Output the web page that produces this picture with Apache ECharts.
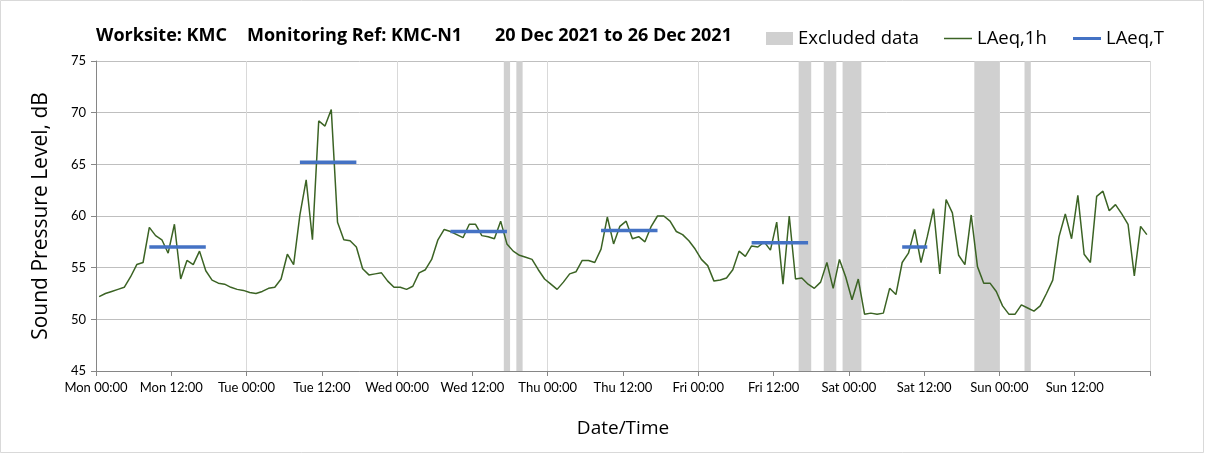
<!DOCTYPE html>
<html>
<head>
<meta charset="utf-8">
<script src="https://cdn.jsdelivr.net/npm/echarts@6/dist/echarts.min.js"></script>
<style>
html,body{margin:0;padding:0;background:#fff;}
#chart{width:1208px;height:459px;}
</style>
</head>
<body>
<div id="chart"></div>
<script>
// Hourly LAeq,1h values, Mon 00:00 .. Sun 23:00 (168 hours)
const laeq1h = [
  52.2,52.5,52.7,52.9,53.1,54.1,55.3,55.5,58.9,58.1,57.7,56.4,59.2,53.9,55.7,55.3,56.6,54.7,53.8,53.5,53.4,53.1,52.9,52.8,
  52.6,52.5,52.7,53.0,53.1,53.9,56.3,55.3,60.1,63.5,57.7,69.2,68.7,70.3,59.4,57.7,57.6,57.0,54.9,54.3,54.4,54.5,53.7,53.1,
  53.1,52.9,53.2,54.5,54.8,55.8,57.7,58.7,58.5,58.2,57.9,59.2,59.2,58.1,58.0,57.8,59.5,57.3,56.6,56.2,56.0,55.8,54.8,53.9,
  53.4,52.9,53.6,54.4,54.6,55.7,55.7,55.5,56.8,59.9,57.3,59.0,59.5,57.8,58.0,57.5,59.0,60.0,60.0,59.5,58.5,58.2,57.6,56.8,
  55.8,55.2,53.7,53.8,54.0,54.8,56.6,56.1,57.1,57.0,57.5,56.7,59.4,53.4,60.0,53.9,54.0,53.4,53.0,53.6,55.5,53.0,55.8,54.1,
  51.9,53.9,50.5,50.6,50.5,50.6,53.0,52.4,55.5,56.4,58.7,55.5,58.0,60.7,54.4,61.6,60.3,56.2,55.3,60.1,55.1,53.5,53.5,52.7,
  51.3,50.5,50.5,51.4,51.1,50.8,51.3,52.5,53.8,58.0,60.2,57.8,62.0,56.3,55.5,61.9,62.4,60.5,61.1,60.2,59.2,54.2,59.0,58.2
];
// LAeq,T daytime periods (first hour, last hour, level)
const periodStart = [8, 32, 56, 80, 104, 128];
const periodEnd   = [17, 41, 65, 89, 113, 132];
const periodLevel = [57.0, 65.2, 58.5, 58.6, 57.4, 57.0];
// Excluded hours (hour index from Mon 00:00)
const excludedHours = [65, 67, 112, 113, 116, 117, 119, 120, 121, 140, 141, 142, 143, 148];
// X tick labels every 12 hours
const tickLabels = ['Mon 00:00','Mon 12:00','Tue 00:00','Tue 12:00','Wed 00:00','Wed 12:00','Thu 00:00','Thu 12:00','Fri 00:00','Fri 12:00','Sat 00:00','Sat 12:00','Sun 00:00','Sun 12:00'];
const yTicks = [45, 50, 55, 60, 65, 70, 75];

const FONT = 'Lato, "Open Sans", sans-serif';
const FONT2 = '"Open Sans", Lato, sans-serif';
const chart = echarts.init(document.getElementById('chart'), null, {renderer: 'canvas'});

const lineData = laeq1h.map((v, i) => [i + 0.5, v]);
// merge consecutive excluded hours into contiguous ranges
const ranges = [];
excludedHours.forEach(h => {
  const last = ranges[ranges.length - 1];
  if (last && last[1] === h) last[1] = h + 1; else ranges.push([h, h + 1]);
});
const excludedAreas = ranges.map(r => [{xAxis: r[0]}, {xAxis: r[1]}]);

const periodSeries = periodStart.map((s, k) => ({
  name: 'LAeq,T',
  type: 'line',
  xAxisIndex: 0,
  yAxisIndex: 0,
  symbol: 'none',
  silent: true,
  z: 4,
  lineStyle: {color: '#4472C4', width: 3.5, cap: 'butt'},
  itemStyle: {color: '#4472C4'},
  data: [[s + 0.5, periodLevel[k]], [periodEnd[k] + 0.5, periodLevel[k]]]
}));

const titleStyle = {fontFamily: FONT2, fontSize: 18, fontWeight: 'bold', color: '#000'};
const legendText = {fontFamily: FONT2, fontSize: 18.5, color: '#000'};

const option = {
  animation: false,
  backgroundColor: '#ffffff',
  textStyle: {fontFamily: FONT},
  grid: {left: 96, right: 58, top: 61, bottom: 88, containLabel: false},
  title: [
    {text: 'Worksite: KMC', left: 96, top: 27, padding: 0, textStyle: titleStyle},
    {text: 'Monitoring Ref: KMC-N1', left: 247, top: 27, padding: 0, textStyle: titleStyle},
    {text: '20 Dec 2021 to 26 Dec 2021', left: 495, top: 27, padding: 0, textStyle: titleStyle}
  ],
  legend: [
    {data: [{name: 'Excluded data', icon: 'rect'}], left: 766, top: 29, padding: 0, itemWidth: 27, itemHeight: 13,
     textStyle: legendText, selectedMode: false},
    {data: [{name: 'LAeq,1h', icon: 'rect'}], left: 944, top: 29, padding: 0, itemWidth: 28, itemHeight: 1.5,
     textStyle: legendText, selectedMode: false},
    {data: [{name: 'LAeq,T', icon: 'rect'}], left: 1073, top: 29, padding: 0, itemWidth: 28, itemHeight: 3,
     textStyle: legendText, selectedMode: false}
  ],
  xAxis: [
    {
      type: 'value', min: 0, max: 168, interval: 12,
      name: 'Date/Time', nameLocation: 'middle', nameGap: 48,
      nameTextStyle: {fontFamily: FONT2, fontSize: 19, color: '#000'},
      axisLine: {show: true, lineStyle: {color: '#868686', width: 1}},
      axisTick: {show: true, length: 5, lineStyle: {color: '#868686'}},
      axisLabel: {show: true, margin: 10, fontFamily: FONT, fontSize: 13, color: '#000',
        formatter: v => tickLabels[Math.round(v / 12)] || ''},
      splitLine: {show: false}
    },
    {
      type: 'value', min: 0, max: 168, interval: 24, position: 'bottom',
      axisLine: {show: false}, axisTick: {show: false}, axisLabel: {show: false},
      splitLine: {show: true, lineStyle: {color: '#d9d9d9', width: 1}}
    }
  ],
  yAxis: {
    type: 'value', min: yTicks[0], max: yTicks[yTicks.length - 1], interval: 5,
    name: 'Sound Pressure Level, dB', nameLocation: 'middle', nameGap: 44,
    nameTextStyle: {fontFamily: FONT2, fontSize: 21, color: '#000'},
    axisLine: {show: true, lineStyle: {color: '#868686', width: 1}},
    axisTick: {show: true, length: 5, lineStyle: {color: '#868686'}},
    axisLabel: {margin: 10, fontFamily: FONT, fontSize: 13, color: '#000'},
    splitLine: {show: true, lineStyle: {color: '#bfbfbf', width: 1}}
  },
  series: [
    {
      name: 'Excluded data', type: 'line', data: [], xAxisIndex: 0,
      itemStyle: {color: '#d0d0d0'}, lineStyle: {color: '#d0d0d0'},
      symbol: 'none', z: 1,
      markArea: {silent: true, itemStyle: {color: '#d0d0d0'}, data: excludedAreas}
    },
    {
      name: 'LAeq,1h', type: 'line', data: lineData, xAxisIndex: 0,
      symbol: 'none', showSymbol: false, z: 3,
      lineStyle: {color: '#3b6324', width: 1.5},
      itemStyle: {color: '#3b6324'}
    },
    ...periodSeries,
    {
      type: 'line', data: [], xAxisIndex: 1, symbol: 'none', silent: true
    }
  ],
  graphic: [
    {type: 'rect', shape: {x: 0.5, y: 0.5, width: 1203, height: 452}, style: {fill: null, stroke: '#d9d9d9', lineWidth: 1}, silent: true, z: -1}
  ]
};
chart.setOption(option);
</script>
</body>
</html>
